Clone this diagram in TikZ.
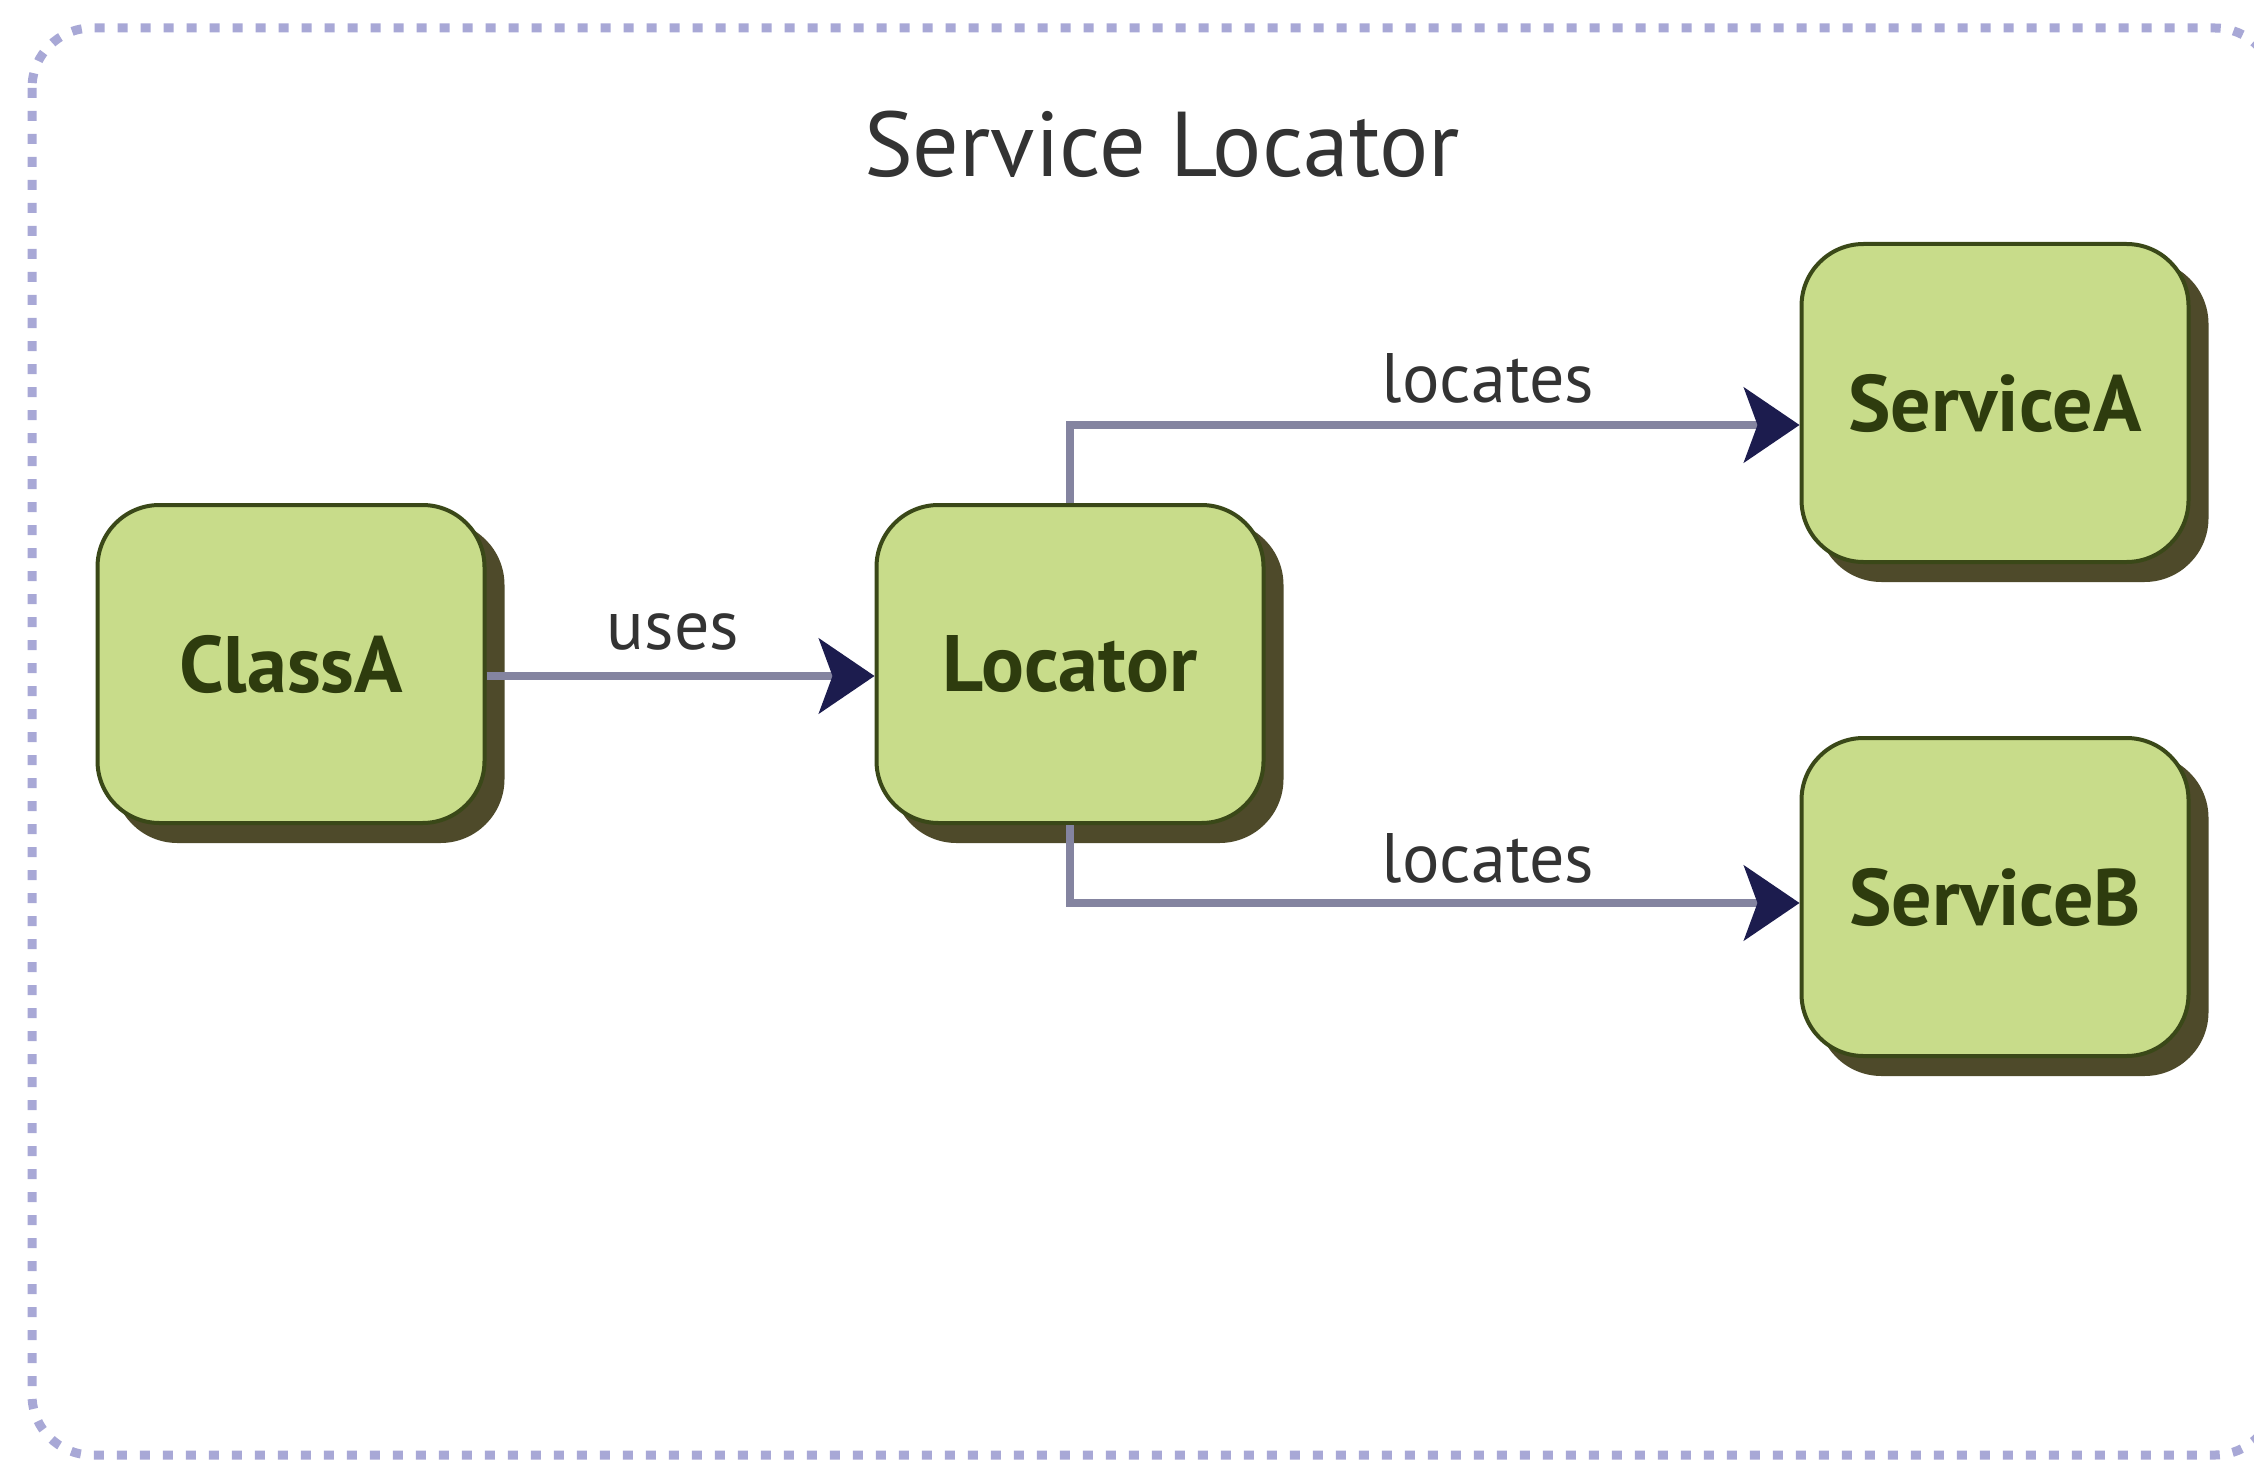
\documentclass[tikz,border=0pt]{standalone}
\usepackage{fontspec}
\setmainfont{PT Sans}
\usetikzlibrary{arrows.meta,calc}
\definecolor{boxfill}{HTML}{C8DC8A}
\definecolor{boxline}{HTML}{3A4818}
\definecolor{boxshadow}{HTML}{4E4A2A}
\definecolor{boxtext}{HTML}{2E3C0E}
\definecolor{conline}{HTML}{8484A0}
\definecolor{contip}{HTML}{1C1C4E}
\definecolor{framecol}{HTML}{A8A8D6}
\definecolor{labeltext}{HTML}{333333}
\tikzset{
  compbox/.style={draw=boxline, line width=4pt, fill=boxfill, rounded corners=62pt,
    minimum width=387pt, minimum height=318pt, inner sep=0pt,
    text=boxtext, font=\fontsize{80}{90}\selectfont\bfseries,
    preaction={fill=boxshadow, draw=boxshadow, transform canvas={shift={(18pt,-18pt)}}}},
  conn/.style={draw=conline, line width=8pt,
    -{Stealth[length=56pt, width=76pt, inset=14pt, line width=2pt, color=contip, fill=contip]}},
  connlabel/.style={text=labeltext, font=\fontsize{70}{80}\selectfont, inner sep=0pt},
  frame/.style={draw=framecol, line width=9pt, dash pattern=on 10pt off 13pt, rounded corners=60pt},
}
\begin{document}
\begin{tikzpicture}[x=1pt, y=-1pt]
\useasboundingbox (0,0) rectangle (2254,1471);
\fill[white] (0,0) rectangle (2254,1471);
\draw[frame] (32,28) rectangle (2275,1455);
\node[text=labeltext, font=\fontsize{92}{104}\selectfont, inner sep=0pt] (title) at (1162,144) {Service Locator};
\node[compbox] (classA) at (291,664) {ClassA};
\node[compbox] (locator) at (1070,664) {Locator};
\node[compbox] (serviceA) at (1995,403) {ServiceA};
\node[compbox] (serviceB) at (1995,897) {ServiceB};
\draw[conn] ($(classA.east)+(0,12)$) -- ($(locator.west)+(0,12)$);
\draw[conn] (locator.north) |- ($(serviceA.west)+(0,22)$);
\draw[conn] (locator.south) |- ($(serviceB.west)+(0,6)$);
\node[connlabel] (usesl) at (673,632) {uses};
\node[connlabel] (locA) at (1488,378) {locates};
\node[connlabel] (locB) at (1488,858) {locates};
\end{tikzpicture}
\end{document}
